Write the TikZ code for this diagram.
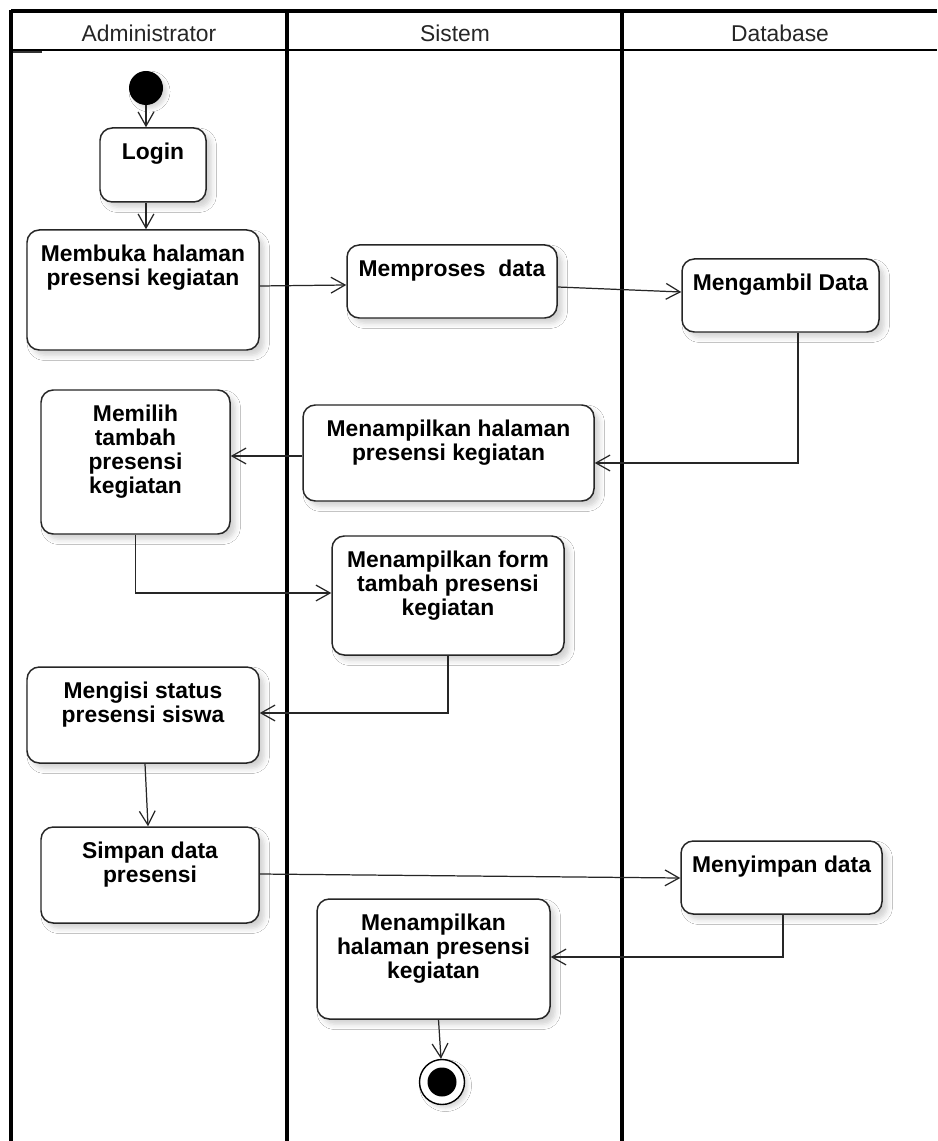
\documentclass[tikz,border=0pt]{standalone}
\usepackage{fontspec}
\setmainfont{Liberation Sans}
\usetikzlibrary{arrows.meta,calc,shadows.blur}

\tikzset{
  act/.style={draw=black!85, line width=0.85pt, rounded corners=7pt, fill=white, inner sep=0pt,
    blur shadow={shadow xshift=3pt, shadow yshift=-3pt, shadow opacity=18, shadow blur radius=3pt}},
  acttext/.style={font=\bfseries\fontsize{13}{13.6}\selectfont, align=center, inner sep=0pt},
  flow/.style={draw=black!85, line width=0.7pt, -{Straight Barb[length=8pt,width=9pt,line width=0.7pt]}},
  lane/.style={line width=2.4pt},
  headline/.style={line width=1.2pt},
  headtext/.style={font=\fontsize{13}{15}\selectfont, inner sep=0pt, anchor=base, text=black!85},
  startdot/.style={circle, fill=black, inner sep=0pt, minimum size=34*0.02cm,
    blur shadow={shadow xshift=2pt, shadow yshift=-2pt, shadow opacity=15, shadow blur radius=2pt}},
  endring/.style={circle, draw=black, line width=0.8pt, fill=white, inner sep=0pt, minimum size=45*0.02cm,
    blur shadow={shadow xshift=2pt, shadow yshift=-2pt, shadow opacity=15, shadow blur radius=2pt}},
  enddot/.style={circle, fill=black, inner sep=0pt, minimum size=29*0.02cm}
}

% activity box: name, left, top, right, bottom, label
\newcommand\actnode[6]{%
  \node[act, minimum width={(#4-#2)*0.02cm}, minimum height={(#5-#3)*0.02cm}] (#1) at ({(#2+#4)/2},{(#3+#5)/2}) {};
  \node[acttext, anchor=north] (#1-t) at ($(#1.north)+(0,15.5)$) {#6};}

\begin{document}
\begin{tikzpicture}[x=0.02cm, y=-0.02cm]
\useasboundingbox[fill=white] (0,0) rectangle (937,1141);

% swimlane frame
\draw[lane, line width=1.8pt] (11,11) -- (937,11);
\draw[headline] (11,50) -- (937,50);
\draw[line width=1.4pt, black!80] (12,52) -- (42,52);
\draw[lane, line width=1.9pt] (11,10) -- (11,1141);
\draw[lane] (287,10) -- (287,1141);
\draw[lane] (622,10) -- (622,1141);

\node[headtext] (hadmin) at (149,42) {Administrator};
\node[headtext] (hsis) at (455,42) {Sistem};
\node[headtext] (hdb) at (780,42) {Database};

% activities
\node[startdot] (start) at (146,88) {};
\actnode{login}{100}{128}{206}{202}{Login}
\actnode{memb}{27}{230}{259}{350}{Membuka halaman\\presensi kegiatan}
\actnode{proc}{347}{245}{557}{318}{Memproses\ \ data}
\actnode{ambil}{682}{259}{879}{332}{Mengambil Data}
\actnode{pilih}{41}{390}{230}{534}{Memilih\\tambah\\presensi\\kegiatan}
\actnode{tamp1}{303}{405}{594}{501}{Menampilkan halaman\\presensi kegiatan}
\actnode{form}{332}{536}{564}{655}{Menampilkan form\\tambah presensi\\kegiatan}
\actnode{isi}{27}{667}{259}{763}{Mengisi status\\presensi siswa}
\actnode{simpan}{41}{827}{259}{923}{Simpan data\\presensi}
\actnode{nyimpan}{681}{841}{882}{914}{Menyimpan data}
\actnode{tamp2}{317}{899}{550}{1019}{Menampilkan\\halaman presensi\\kegiatan}
\node[endring] (end) at (442,1082) {};
\node[enddot] (endin) at (end.center) {};

% control flow
\draw[flow] (start.south) -- (start.south |- login.north);
\draw[flow] (start.south |- login.south) -- (start.south |- memb.north);
\draw[flow] ($(memb.east)+(0,-4)$) -- ($(proc.west)+(0,3.5)$);
\draw[flow] ($(proc.east)+(0,5.5)$) -- ($(ambil.west)+(0,-3.5)$);
\draw[flow] ($(ambil.south)+(17.5,0)$) |- ($(tamp1.east)+(0,10)$);
\draw[flow] ($(tamp1.west)+(0,3)$) -- ($(pilih.east)+(0,-6)$);
\draw[flow] (pilih.south) |- ($(form.west)+(0,-2.5)$);
\draw[flow] (form.south) |- ($(isi.east)+(0,-2)$);
\draw[flow] ($(isi.south)+(2,0)$) -- ($(simpan.north)+(-2,0)$);
\draw[flow] ($(simpan.east)+(0,-1)$) -- ($(nyimpan.west)+(0,0.5)$);
\draw[flow] ($(nyimpan.south)+(1.5,0)$) |- ($(tamp2.east)+(0,-2)$);
\draw[flow] ($(tamp2.south)+(5,0)$) -- ($(end.north)+(-1,0)$);
\end{tikzpicture}
\end{document}
